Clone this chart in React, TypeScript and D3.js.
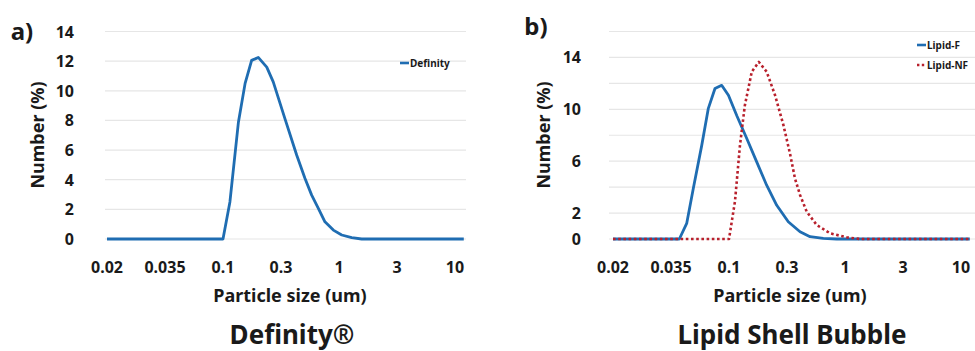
import React from 'react';
import * as d3 from 'd3';

// x axis: particle size (um), ticks equally spaced
const sizeTicks = [0.02, 0.035, 0.1, 0.3, 1, 3, 10];
const sizeLabels = ['0.02', '0.035', '0.1', '0.3', '1', '3', '10'];

// panel a) Definity
const definitySize = [0.02, 0.1, 0.114, 0.134, 0.152, 0.172, 0.195, 0.229, 0.259, 0.326, 0.416, 0.493, 0.567, 0.651, 0.747, 0.889, 1.053, 1.272, 1.537, 12];
const definityNumber = [0, 0, 2.5, 7.9, 10.5, 12.05, 12.25, 11.6, 10.6, 8.1, 5.65, 4.1, 2.96, 2.07, 1.16, 0.6, 0.27, 0.09, 0, 0];

// panel b) Lipid shell bubble
const lipidFSize = [0.02, 0.0407, 0.0465, 0.0524, 0.061, 0.0687, 0.0776, 0.0876, 0.099, 0.116, 0.14, 0.169, 0.204, 0.247, 0.308, 0.393, 0.484, 0.637, 0.84, 12];
const lipidFNumber = [0, 0, 1.2, 3.9, 7.2, 10.05, 11.6, 11.85, 11.08, 9.5, 7.75, 5.95, 4.15, 2.6, 1.33, 0.56, 0.18, 0.05, 0, 0];
const lipidNFSize = [0.02, 0.1, 0.112, 0.123, 0.135, 0.154, 0.176, 0.204, 0.239, 0.28, 0.319, 0.354, 0.393, 0.452, 0.556, 0.733, 1.032, 1.328, 12];
const lipidNFNumber = [0, 0, 2.9, 7.2, 10.3, 12.9, 13.65, 12.9, 11.1, 8.8, 6.6, 4.67, 3.4, 2.1, 1.08, 0.44, 0.13, 0, 0];

const gridA = [0, 2, 4, 6, 8, 10, 12, 14];
const labelsA = [0, 2, 4, 6, 8, 10, 12, 14];
const gridB = [0, 2, 4, 6, 8, 10, 12, 14, 16];
const labelsB = [0, 2, 6, 10, 14];

const BLUE = '#1f6db2';
const RED = '#b8202c';
const FONT = '"Noto Sans", "Open Sans", sans-serif';
const TXT = '#1a1a1a';

type Series = { name: string; size: number[]; value: number[]; color: string; dotted?: boolean };

function Panel(props: {
  tag: string; tagX: number; tagY: number;
  x0: number; left: number; right: number;
  yMax: number; grid: number[]; labels: number[]; labelRight: number;
  series: Series[]; legendX: number; legendY: number[];
  title: string; yTitleX: number; xTitleX: number;
}) {
  const { x0, left, right, yMax } = props;
  const step = 58;
  const x = d3.scaleLog()
    .domain(sizeTicks)
    .range(sizeTicks.map((_, i) => x0 + i * step));
  const y = d3.scaleLinear().domain([0, yMax]).range([239, 31.5]);

  return (
    <g fontFamily={FONT} fill={TXT}>
      <text x={props.tagX} y={props.tagY} fontSize={24} fontWeight="bold" textAnchor="middle" dominantBaseline="central">{props.tag}</text>
      {props.grid.map(v => (
        <line key={v} x1={left} x2={right} y1={y(v)} y2={y(v)} stroke="#e6e6e6" strokeWidth={1.2} />
      ))}
      {props.labels.map(v => (
        <text key={v} x={props.labelRight} y={y(v)} fontSize={16} fontWeight="bold" textAnchor="end" dominantBaseline="central">{v}</text>
      ))}
      {sizeTicks.map((s, i) => (
        <text key={s} x={x(s)} y={267} fontSize={16} fontWeight="bold" textAnchor="middle" dominantBaseline="central">{sizeLabels[i]}</text>
      ))}
      {props.series.map(s => {
        const pts = s.size.map((d, i) => [x(d), y(s.value[i])] as [number, number]);
        const path = d3.line()(pts) || '';
        return (
          <path key={s.name} d={path} fill="none" stroke={s.color} strokeWidth={s.dotted ? 2.6 : 2.8}
            strokeDasharray={s.dotted ? '2.6 2.6' : undefined} strokeLinejoin="round" />
        );
      })}
      {props.series.map((s, i) => (
        <g key={s.name}>
          <line x1={props.legendX} x2={props.legendX + 9} y1={props.legendY[i]} y2={props.legendY[i]}
            stroke={s.color} strokeWidth={2.6} strokeDasharray={s.dotted ? '2.4 2.4' : undefined} />
          <text x={props.legendX + 10} y={props.legendY[i]} fontSize={10} fontWeight="bold" dominantBaseline="central">{s.name}</text>
        </g>
      ))}
      <text transform={`translate(${props.yTitleX},135) rotate(-90)`} fontSize={18} fontWeight="bold" textAnchor="middle" dominantBaseline="central">Number (%)</text>
      <text x={props.xTitleX} y={295} fontSize={18} fontWeight="bold" textAnchor="middle" dominantBaseline="central">Particle size (um)</text>
      <text x={props.xTitleX + 2} y={344} fontSize={26} fontWeight="bold" textAnchor="middle">{props.title}</text>
    </g>
  );
}

export default function App() {
  return (
    <svg width={975} height={351} style={{ position: 'absolute', left: 0, top: 0, background: '#fff' }}>
      <rect width={975} height={351} fill="#fff" />
      <Panel tag="a)" tagX={22} tagY={30} x0={107} left={105} right={466}
        yMax={14} grid={gridA} labels={labelsA} labelRight={74}
        series={[{ name: 'Definity', size: definitySize, value: definityNumber, color: BLUE }]}
        legendX={400} legendY={[63]} title="Definity®" yTitleX={37} xTitleX={290} />
      <Panel tag="b)" tagX={536} tagY={25} x0={613} left={609} right={990}
        yMax={16} grid={gridB} labels={labelsB} labelRight={581}
        series={[
          { name: 'Lipid-F', size: lipidFSize, value: lipidFNumber, color: BLUE },
          { name: 'Lipid-NF', size: lipidNFSize, value: lipidNFNumber, color: RED, dotted: true },
        ]}
        legendX={917} legendY={[45, 65]} title="Lipid Shell Bubble" yTitleX={543} xTitleX={790} />
    </svg>
  );
}
